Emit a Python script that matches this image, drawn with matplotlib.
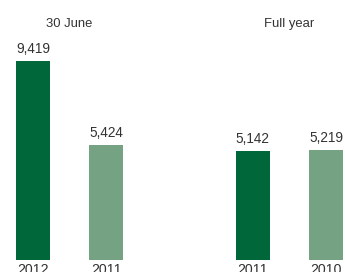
import matplotlib.pyplot as plt

# Data
groups = ['30 June', 'Full year']
years = ['2012', '2011', '2011', '2010']
values = [9419, 5424, 5142, 5219]
positions = [0, 1, 3, 4]
colors = ['#00673A', '#74A283', '#00673A', '#74A283']

plt.rcParams['font.family'] = ['Liberation Sans', 'DejaVu Sans']

fig = plt.figure(figsize=(3.45, 2.72), dpi=100)
ax = fig.add_axes([0, 12 / 272, 1, 260 / 272])

bars = ax.bar(positions, values, width=0.465, color=colors)

# scale: 199 px for the tallest bar
px = 9419 / 199
ax.set_ylim(0, 260 * px)
ax.set_xlim(-33 / 73.25, (345 - 33) / 73.25)

# value labels
for b, v in zip(bars, values):
    ax.text(b.get_x() + b.get_width() / 2, v + 5 * px, f'{v:,}',
            ha='center', va='bottom', fontsize=9.8, color='#333333')

# year labels below the bars (cut off by the figure edge, as in the original)
for p, y in zip(positions, years):
    ax.text(p, -2.5 * px, y, ha='center', va='top', fontsize=10.2,
            color='#333333', clip_on=False)

# group titles
ax.text(0.5, 236 * px, groups[0], ha='center', va='center', fontsize=9.4, color='#333333')
ax.text(3.5, 236 * px, groups[1], ha='center', va='center', fontsize=9.4, color='#333333')

ax.axis('off')
fig.savefig('out.png', dpi=100)
